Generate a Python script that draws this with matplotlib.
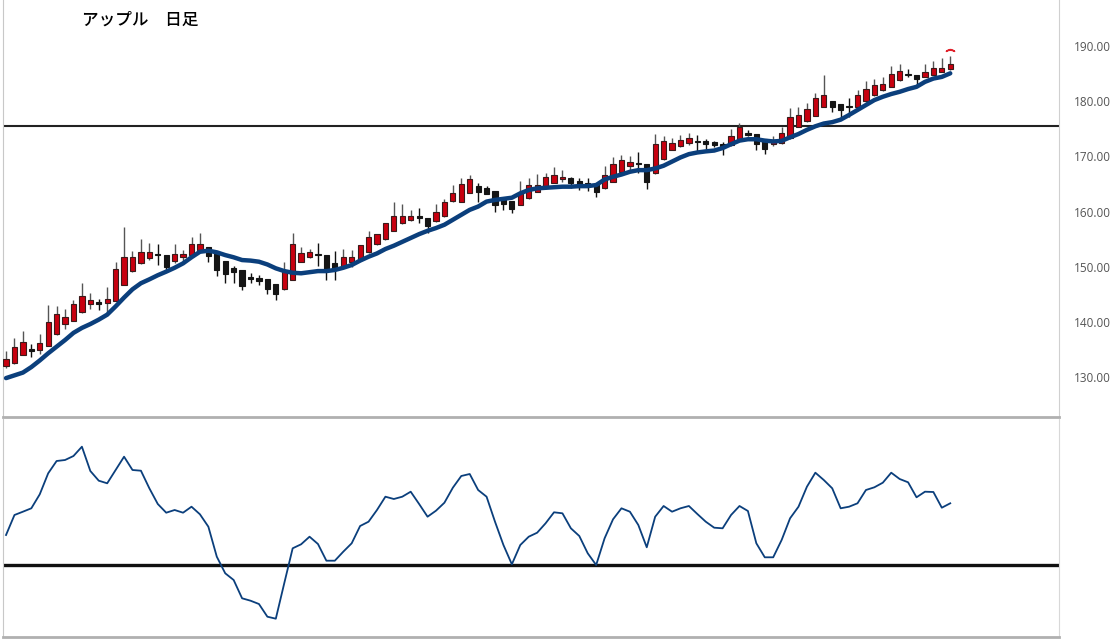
import numpy as np
import matplotlib
matplotlib.use("Agg")
import matplotlib.pyplot as plt
from matplotlib.ticker import FormatStrFormatter

plt.rcParams['font.family'] = ['Noto Sans CJK JP', 'DejaVu Sans']

title = "アップル　日足"

# daily prices (open / high / low / close)
opens = [132.0, 132.5, 134.0, 135.1, 134.9, 135.7, 137.8, 139.6, 140.2, 141.75,
         143.2, 143.56, 143.4, 143.8, 146.7, 149.2, 150.6, 151.65, 152.3, 152.2,
         151.1, 151.7, 152.1, 153.0, 153.5, 152.8, 151.0, 149.8, 149.4, 148.1,
         148.0, 147.7, 146.8, 145.9, 147.6, 150.9, 151.7, 152.2, 152.1, 150.6,
         150.1, 150.9, 151.35, 152.6, 154.1, 155.0, 156.5, 157.9, 158.5, 159.1,
         158.8, 158.2, 159.1, 161.9, 161.8, 163.4, 164.7, 164.2, 163.7, 162.5,
         161.9, 161.2, 162.4, 163.6, 164.2, 165.2, 165.85, 166.15, 165.6, 165.1,
         164.9, 164.2, 165.4, 167.2, 168.3, 168.7, 168.6, 166.9, 169.5, 171.2,
         171.8, 172.4, 172.85, 172.8, 172.55, 172.3, 172.0, 173.0, 174.3, 174.05,
         173.1, 172.25, 172.4, 173.3, 175.4, 176.4, 177.4, 179.0, 180.0, 179.5,
         179.1, 179.0, 180.0, 181.1, 182.0, 182.6, 183.8, 184.9, 184.75, 184.45,
         184.75, 185.35, 185.8]
highs = [134.7, 137.1, 138.4, 136.0, 137.8, 143.1, 142.8, 142.3, 144.0, 147.0,
         145.3, 144.2, 146.4, 150.9, 157.15, 152.9, 155.0, 154.25, 154.1, 152.2,
         154.1, 153.0, 155.3, 156.1, 153.6, 152.9, 151.0, 150.1, 149.4, 148.9,
         148.5, 147.8, 146.9, 150.8, 156.1, 153.65, 153.2, 154.25, 152.1, 152.9,
         153.2, 153.0, 154.0, 156.5, 156.0, 158.0, 161.8, 161.4, 160.3, 160.6,
         158.8, 161.4, 162.2, 164.8, 166.0, 166.6, 165.1, 164.7, 163.7, 162.5,
         161.9, 165.5, 166.0, 166.8, 167.05, 168.0, 167.5, 166.2, 166.0, 166.0,
         164.9, 168.3, 169.8, 170.2, 170.1, 170.7, 168.6, 174.1, 173.6, 173.3,
         173.9, 174.3, 173.9, 173.1, 172.8, 172.55, 174.9, 176.0, 174.7, 174.1,
         173.1, 173.6, 175.4, 178.7, 179.0, 179.6, 181.55, 184.75, 180.05, 179.5,
         180.5, 182.0, 183.7, 184.0, 184.45, 186.3, 186.7, 185.8, 184.8, 186.7,
         187.2, 187.8, 188.2]
lows = [131.6, 132.3, 133.9, 133.7, 134.1, 135.6, 137.7, 138.7, 140.1, 141.6,
        142.3, 142.2, 141.4, 143.7, 146.6, 149.1, 150.5, 151.2, 150.3, 149.1,
        150.75, 150.6, 152.0, 152.9, 150.8, 148.3, 147.1, 147.1, 145.8, 147.1,
        146.7, 145.0, 143.9, 145.8, 147.5, 150.8, 151.6, 150.1, 147.5, 147.6,
        150.0, 150.0, 151.3, 152.5, 154.0, 154.9, 156.4, 157.7, 158.2, 157.9,
        156.1, 158.1, 159.0, 161.8, 161.7, 163.3, 161.7, 163.2, 160.0, 160.3,
        159.7, 161.1, 162.3, 163.5, 164.1, 165.1, 165.4, 164.3, 163.9, 163.7,
        162.7, 164.1, 165.3, 167.1, 167.5, 166.9, 164.1, 166.8, 169.4, 171.1,
        171.7, 172.1, 171.0, 171.3, 171.65, 170.3, 171.9, 172.9, 173.6, 171.2,
        170.4, 171.8, 172.3, 173.2, 175.3, 176.3, 177.3, 178.9, 178.1, 177.2,
        177.2, 178.9, 179.9, 181.0, 181.9, 182.5, 183.7, 184.3, 182.6, 184.4,
        184.7, 185.3, 185.7]
closes = [133.2, 135.4, 136.3, 134.7, 136.1, 139.9, 141.4, 140.8, 143.2, 144.65,
          143.9, 143.26, 144.2, 149.6, 151.7, 151.8, 152.6, 152.7, 152.1, 150.0,
          152.3, 152.3, 154.1, 154.1, 152.0, 149.4, 148.6, 149.1, 146.5, 147.85,
          147.4, 145.9, 145.1, 149.2, 154.2, 152.4, 152.6, 152.1, 149.2, 149.5,
          151.7, 151.7, 153.95, 155.3, 155.9, 157.9, 159.2, 159.1, 159.2, 158.8,
          157.3, 159.9, 161.8, 163.4, 165.0, 165.85, 163.6, 163.25, 161.2, 161.3,
          160.5, 163.4, 164.8, 164.8, 166.2, 166.6, 166.3, 165.1, 164.7, 164.6,
          163.6, 166.6, 168.7, 169.3, 168.9, 168.6, 165.3, 172.2, 172.8, 172.4,
          173.0, 173.4, 172.6, 172.25, 172.0, 171.9, 173.75, 175.4, 173.9, 172.2,
          171.3, 172.6, 174.2, 177.2, 177.5, 178.5, 180.5, 181.1, 179.0, 178.4,
          178.9, 181.1, 182.2, 182.9, 183.2, 184.9, 185.5, 184.7, 183.96, 185.2,
          185.95, 186.1, 186.75]

# moving average as drawn on the chart
ma = [129.8, 130.3, 130.8, 131.8, 133.0, 134.3, 135.5, 136.7, 138.0, 138.9,
      139.6, 140.4, 141.3, 142.8, 144.4, 145.9, 147.0, 147.7, 148.45, 149.1,
      149.8, 150.6, 151.7, 152.7, 152.9, 152.6, 152.1, 151.7, 151.2, 151.1,
      150.9, 150.4, 149.7, 149.2, 148.9, 148.8, 149.0, 149.2, 149.2, 149.4,
      149.8, 150.3, 151.1, 151.8, 152.4, 153.2, 153.8, 154.5, 155.2, 155.9,
      156.5, 157.0, 157.6, 158.5, 159.4, 160.3, 160.9, 161.8, 162.1, 162.3,
      162.5, 163.3, 163.9, 164.2, 164.3, 164.4, 164.5, 164.5, 164.6, 164.6,
      164.8, 165.8, 166.3, 166.7, 167.2, 167.5, 167.5, 167.8, 168.3, 169.05,
      169.8, 170.4, 170.7, 170.9, 171.05, 171.5, 172.2, 172.85, 173.1, 173.1,
      172.85, 172.7, 172.8, 173.45, 174.05, 174.8, 175.45, 175.95, 176.2, 176.65,
      177.5, 178.4, 179.3, 180.2, 180.8, 181.3, 181.7, 182.2, 182.6, 183.5,
      184.1, 184.4, 185.05]

# lower panel oscillator
osc = [3.0, 5.0, 5.33, 5.67, 7.07, 9.17, 10.4, 10.5, 10.9, 11.83,
       9.4, 8.43, 8.17, 9.5, 10.83, 9.5, 9.43, 7.67, 6.1, 5.23,
       5.5, 5.23, 5.83, 5.07, 3.83, 0.83, -0.83, -1.5, -3.33, -3.57,
       -3.9, -5.17, -5.37, -1.83, 1.67, 2.07, 2.83, 2.1, 0.43, 0.43,
       1.33, 2.17, 3.9, 4.33, 5.5, 6.83, 6.6, 6.83, 7.33, 6.1,
       4.83, 5.43, 6.23, 7.73, 8.9, 9.1, 7.5, 6.83, 4.33, 2.0,
       0.07, 2.0, 2.83, 3.23, 4.17, 5.27, 5.17, 3.67, 2.9, 1.17,
       0.0, 2.67, 4.57, 5.67, 5.33, 4.0, 1.77, 4.83, 5.9, 5.33,
       5.67, 5.9, 5.1, 4.33, 3.73, 3.67, 5.0, 5.9, 5.4, 2.17,
       0.77, 0.77, 2.5, 4.67, 5.83, 7.83, 9.23, 8.5, 7.67, 5.67,
       5.83, 6.17, 7.5, 7.77, 8.23, 9.23, 8.6, 8.27, 6.77, 7.33,
       7.3, 5.73, 6.17]

resistance = 175.5
price_ticks = [130, 140, 150, 160, 170, 180, 190]
signal_price = 189.2

W, H = 1120, 643
fig = plt.figure(figsize=(W / 100, H / 100), dpi=100)
ax = fig.add_axes([3 / W, 1 - 417 / H, 1056 / W, 417 / H])
ax2 = fig.add_axes([3 / W, 1 - 637 / H, 1056 / W, 218 / H])

x = np.arange(len(closes))
o = np.array(opens)
c = np.array(closes)
up = c > o
body_low = np.minimum(o, c)
body_h = np.maximum(np.abs(c - o), 0.18)

red = '#c8000f'
ax.vlines(x[up], np.array(lows)[up], np.array(highs)[up], color='#555555', lw=1, zorder=2)
ax.vlines(x[~up], np.array(lows)[~up], np.array(highs)[~up], color='#111111', lw=1, zorder=2)
ax.bar(x[up], body_h[up], bottom=body_low[up], width=0.62, color=red,
       edgecolor='#3a1a1a', linewidth=0.8, zorder=3)
ax.bar(x[~up], body_h[~up], bottom=body_low[~up], width=0.62, color='#151515',
       edgecolor='#151515', linewidth=0.8, zorder=3)

ax.plot(x, ma, color='#0b3f7c', lw=3.2, solid_capstyle='round', zorder=4)
ax.axhline(resistance, color='#222222', lw=1.5, zorder=1)
ax.plot(x[-1], signal_price, marker=r'$\frown$', color='#e0202a', ms=6, zorder=5)

ax.set_xlim(-0.36, 124.9)
ax.set_ylim(122.75, 198.34)
ax.set_yticks(price_ticks)
ax.yaxis.set_major_formatter(FormatStrFormatter('%.2f'))
ax.yaxis.tick_right()
ax.tick_params(axis='y', length=0, pad=11, labelsize=8.5, labelcolor='#555555')
for lab in ax.get_yticklabels():
    lab.set_family('Open Sans')
ax.set_xticks([])
ax.spines['top'].set_visible(False)
ax.spines['left'].set_color('#c8c8c8')
ax.spines['right'].set_color('#d0d0d0')
ax.spines['bottom'].set_color('#b0b0b0')
ax.spines['bottom'].set_linewidth(2)

ax2.plot(x, osc, color='#0b3f7c', lw=1.3, zorder=3)
ax2.axhline(0, color='#111111', lw=2.4, zorder=2)
ax2.set_xlim(-0.36, 124.9)
ax2.set_ylim(-7.2, 14.6)
ax2.set_xticks([])
ax2.set_yticks([])
ax2.spines['top'].set_visible(False)
ax2.spines['left'].set_color('#c8c8c8')
ax2.spines['right'].set_color('#d8d8d8')
ax2.spines['bottom'].set_color('#b0b0b0')
ax2.spines['bottom'].set_linewidth(2)

fig.text(82 / W, 1 - 20 / H, title, fontsize=12, fontweight='medium',
         va='center', ha='left', color='black')

fig.savefig('out.png', dpi=100)
